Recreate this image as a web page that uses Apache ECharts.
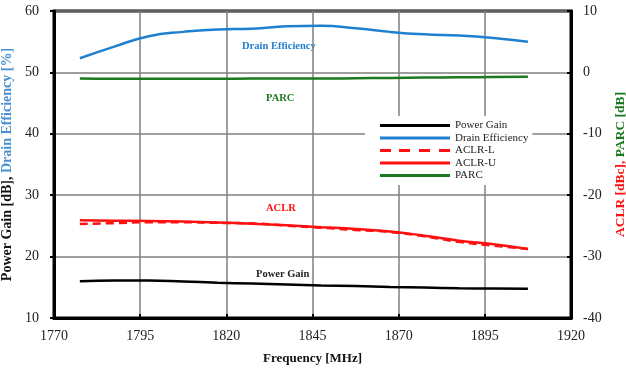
<!DOCTYPE html>
<html>
<head>
<meta charset="utf-8">
<script src="https://cdn.jsdelivr.net/npm/echarts@6/dist/echarts.min.js"></script>
<style>html,body{margin:0;padding:0;background:#fff}#c{width:626px;height:369px}</style>
</head>
<body>
<div id="c"></div>
<script>
const freqs = [1777.5, 1787.5, 1797.5, 1807.5, 1817.5, 1827.5, 1837.5, 1847.5, 1857.5, 1867.5, 1877.5, 1887.5, 1897.5, 1907.5];
const powerGain = [16.0, 16.1, 16.1, 15.95, 15.75, 15.6, 15.45, 15.3, 15.2, 15.05, 14.95, 14.85, 14.8, 14.75];
const drainEff = [52.3, 54.2, 55.9, 56.6, 57.0, 57.1, 57.5, 57.6, 57.2, 56.6, 56.2, 56.0, 55.6, 55.0];
const aclrL = [-24.7, -24.55, -24.4, -24.4, -24.5, -24.6, -24.95, -25.3, -25.65, -26.0, -26.7, -27.6, -28.2, -28.75];
const aclrU = [-24.1, -24.15, -24.2, -24.3, -24.45, -24.65, -24.9, -25.2, -25.5, -25.9, -26.6, -27.4, -28.0, -28.75];
const parc = [-1.0, -1.05, -1.05, -1.05, -1.05, -1.0, -1.0, -1.0, -0.95, -0.9, -0.85, -0.8, -0.75, -0.7];
const seriesNames = ['Power Gain', 'Drain Efficiency', 'ACLR-L', 'ACLR-U', 'PARC'];

const BLUE = '#1f80d0', GREEN = '#1b7a1f', RED = '#ff1010', BLACK = '#000';
const FONT = '"Liberation Serif", "Times New Roman", serif';
const pair = ys => freqs.map((f, i) => [f, ys[i]]);
const SOLID_ICON = 'path://M0,0h70v3h-70z';
const DASH_ICON = 'path://M0,0h11v3h-11zM19,0h11v3h-11zM39,0h11v3h-11zM59,0h11v3h-11z';

const chart = echarts.init(document.getElementById('c'), null, {renderer: 'canvas'});
const gridLine = {show: true, lineStyle: {color: '#7f7f7f', width: 1.5}};
chart.setOption({
  animation: false,
  backgroundColor: '#fff',
  textStyle: {fontFamily: FONT},
  grid: {left: 54, right: 55, top: 11, bottom: 51, outerBoundsMode: 'none', containLabel: false, show: true, borderColor: '#000', borderWidth: 3, backgroundColor: 'transparent'},
  legend: {
    orient: 'vertical', left: 365, top: 116,
    data: seriesNames.map(n => ({name: n, icon: n === 'ACLR-L' ? DASH_ICON : SOLID_ICON})),
    itemWidth: 70, itemHeight: 3, itemGap: 1.5, symbolKeepAspect: false,
    backgroundColor: '#fff', padding: [4, 4, 4, 15],
    textStyle: {fontFamily: FONT, fontSize: 11, color: '#222'}
  },
  xAxis: {
    type: 'value', min: 1770, max: 1920, interval: 25,
    name: 'Frequency [MHz]', nameLocation: 'middle', nameGap: 34,
    nameTextStyle: {fontFamily: FONT, fontSize: 13, fontWeight: 'bold', color: '#111'},
    axisLine: {show: true, onZero: false, lineStyle: {color: '#000', width: 3}},
    axisTick: {show: true, inside: true, length: 4, lineStyle: {color: '#000', width: 2}},
    axisLabel: {fontFamily: FONT, fontSize: 14, color: '#222', margin: 11, formatter: v => String(v)},
    splitLine: gridLine
  },
  yAxis: [{
    type: 'value', min: 10, max: 60, interval: 10, position: 'left',
    name: '{a|Power Gain [dB], }{b|Drain Efficiency [%]}', nameLocation: 'middle', nameGap: 37,
    nameTextStyle: {rich: {
      a: {fontFamily: FONT, fontSize: 14, fontWeight: 'bold', color: '#111'},
      b: {fontFamily: FONT, fontSize: 14, fontWeight: 'bold', color: '#4a90d0'}
    }},
    axisLine: {show: true, onZero: false, lineStyle: {color: '#000', width: 3}},
    axisTick: {show: true, inside: false, length: 4, lineStyle: {color: '#000', width: 2}},
    axisLabel: {fontFamily: FONT, fontSize: 14, color: '#222', margin: 15},
    splitLine: gridLine
  }, {
    type: 'value', min: -40, max: 10, interval: 10, position: 'right',
    name: '{a|ACLR [dBc], }{b|PARC [dB]}', nameLocation: 'middle', nameGap: 43, nameRotate: 90,
    nameTextStyle: {rich: {
      a: {fontFamily: FONT, fontSize: 13.5, fontWeight: 'bold', color: RED},
      b: {fontFamily: FONT, fontSize: 13.5, fontWeight: 'bold', color: GREEN}
    }},
    axisLine: {show: true, onZero: false, lineStyle: {color: '#000', width: 3}},
    axisTick: {show: true, inside: true, length: 4, lineStyle: {color: '#000', width: 2}},
    axisLabel: {fontFamily: FONT, fontSize: 14, color: '#222', margin: 12},
    splitLine: {show: false}
  }],
  series: [
    {name: 'Power Gain', type: 'line', yAxisIndex: 0, smooth: true, symbol: 'none', data: pair(powerGain), lineStyle: {color: BLACK, width: 2.5}, itemStyle: {color: BLACK}},
    {name: 'Drain Efficiency', type: 'line', yAxisIndex: 0, smooth: true, symbol: 'none', data: pair(drainEff), lineStyle: {color: BLUE, width: 2.5}, itemStyle: {color: BLUE}},
    {name: 'ACLR-L', type: 'line', yAxisIndex: 1, smooth: true, symbol: 'none', data: pair(aclrL), lineStyle: {color: RED, width: 2.5, type: [8, 5]}, itemStyle: {color: RED}},
    {name: 'ACLR-U', type: 'line', yAxisIndex: 1, smooth: true, symbol: 'none', data: pair(aclrU), lineStyle: {color: RED, width: 2.5}, itemStyle: {color: RED}},
    {name: 'PARC', type: 'line', yAxisIndex: 1, smooth: true, symbol: 'none', data: pair(parc), lineStyle: {color: GREEN, width: 2.5}, itemStyle: {color: GREEN}}
  ],
  graphic: [
    {type: 'text', left: 242, top: 41, style: {text: 'Drain Efficiency', fill: BLUE, font: 'bold 10.5px ' + FONT}},
    {type: 'text', left: 266, top: 93, style: {text: 'PARC', fill: GREEN, font: 'bold 10.5px ' + FONT}},
    {type: 'text', left: 266, top: 203, style: {text: 'ACLR', fill: RED, font: 'bold 10.5px ' + FONT}},
    {type: 'text', left: 256, top: 269, style: {text: 'Power Gain', fill: '#222', font: 'bold 10.5px ' + FONT}}
  ]
});
</script>
</body>
</html>
